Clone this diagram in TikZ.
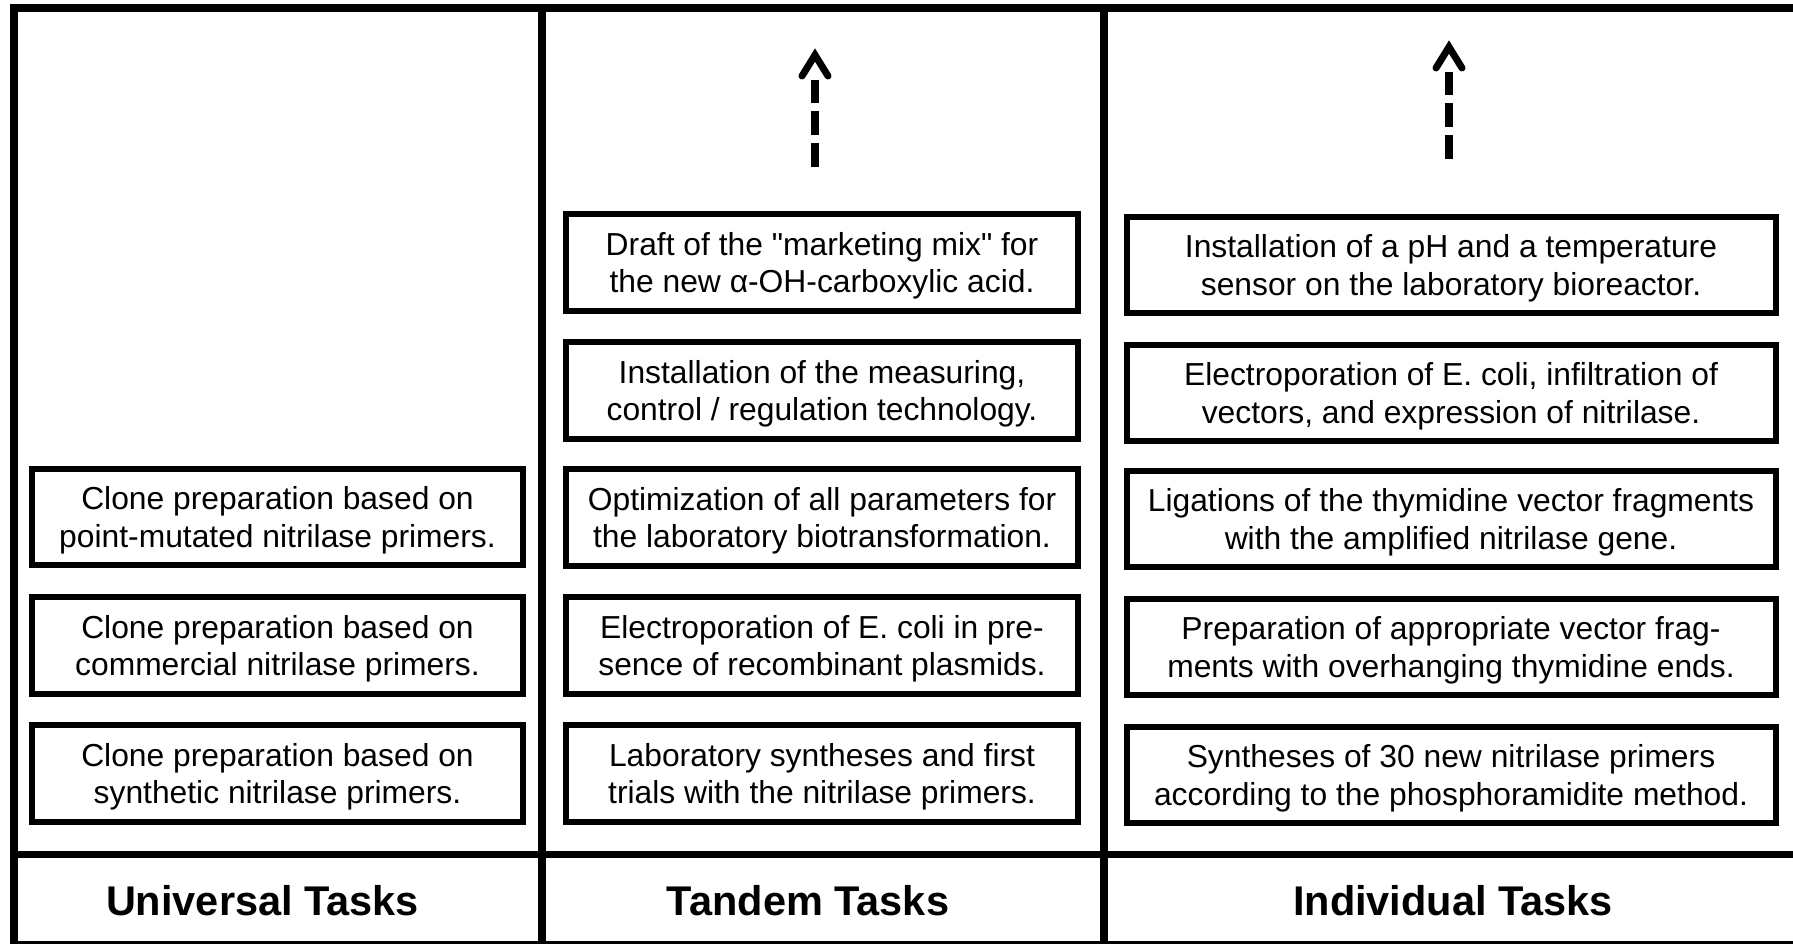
\documentclass[tikz,border=0pt]{standalone}
\usepackage{fontspec}
\setmainfont{Liberation Sans}
\newfontfamily\rawsans{Liberation Sans}
\usetikzlibrary{calc}
% two centred lines with fixed struts so every box sets its text alike
\newcommand\boxlines[2]{\rule{0pt}{30pt}#1\\#2\rule[-7pt]{0pt}{7pt}}
\newcommand\straightquote{{\rawsans\symbol{34}}}
\begin{document}
\begin{tikzpicture}[x=1pt,y=-1pt,
  frame/.style={line width=8pt, line cap=rect},
  taskbox/.style={draw, line width=6pt, inner sep=0pt, minimum height=96.5pt,
    align=center, font=\fontsize{31.8}{37.5}\selectfont},
  unibox/.style={taskbox, minimum width=491pt},
  tanbox/.style={taskbox, minimum width=512pt},
  indbox/.style={taskbox, minimum width=649pt, minimum height=96pt},
  heading/.style={anchor=base, inner sep=0pt,
    font=\fontsize{41.5}{48}\selectfont\bfseries},
  shaft/.style={line width=8pt, dash pattern=on 24pt off 8pt},
  chevron/.style={line width=7pt, line cap=round, line join=miter}
]
\useasboundingbox (0,0) rectangle (1793,944);

% outer frame, column dividers and heading row
\draw[frame] (13.5,8) -- (1850,8);
\draw[frame] (13.5,8) -- (13.5,950);
\draw[frame] (541.5,8) -- (541.5,950);
\draw[frame] (1104,8) -- (1104,950);
\draw[frame] (13.5,945) -- (1850,945);
\draw[line width=7pt] (9.5,854.5) -- (1850,854.5);

% column headings
\node[heading] (hUni) at (262.5,915) {Universal Tasks};
\node[heading] (hTan) at (808,915) {Tandem Tasks};
\node[heading] (hInd) at (1453,915) {Individual Tasks};

% universal tasks
\node[unibox] (u3) at (277.5,517) {\boxlines{Clone preparation based on}{point-mutated nitrilase primers.}};
\node[unibox] (u2) at (277.5,645.5) {\boxlines{Clone preparation based on}{commercial nitrilase primers.}};
\node[unibox] (u1) at (277.5,773.5) {\boxlines{Clone preparation based on}{synthetic nitrilase primers.}};

% tandem tasks
\node[tanbox] (t5) at (822,262.5) {\boxlines{Draft of the \straightquote marketing mix\straightquote{} for}{the new α-OH-carboxylic acid.}};
\node[tanbox] (t4) at (822,390.5) {\boxlines{Installation of the measuring,}{control / regulation technology.}};
\node[tanbox] (t3) at (822,517.5) {\boxlines{Optimization of all parameters for}{the laboratory biotransformation.}};
\node[tanbox] (t2) at (822,645.5) {\boxlines{Electroporation of E. coli in pre-}{sence of recombinant plasmids.}};
\node[tanbox] (t1) at (822,773.5) {\boxlines{Laboratory syntheses and first}{trials with the nitrilase primers.}};

% individual tasks
\node[indbox] (i5) at (1451,265) {\boxlines{Installation of a pH and a temperature}{sensor on the laboratory bioreactor.}};
\node[indbox] (i4) at (1451,393) {\boxlines{Electroporation of E. coli, infiltration of}{vectors, and expression of nitrilase.}};
\node[indbox] (i3) at (1451,519) {\boxlines{Ligations of the thymidine vector fragments}{with the amplified nitrilase gene.}};
\node[indbox] (i2) at (1451,647) {\boxlines{Preparation of appropriate vector frag-}{ments with overhanging thymidine ends.}};
\node[indbox] (i1) at (1451,775) {\boxlines{Syntheses of 30 new nitrilase primers}{according to the phosphoramidite method.}};

% dashed arrows pointing onward
\coordinate (tanFrom) at (815,167);
\coordinate (tanTo) at (815,80);
\coordinate (tanTip) at (815,55);
\draw[shaft] (tanFrom) -- (tanTo);
\draw[chevron] ([shift={(-13,21)}]tanTip) -- (tanTip) -- ([shift={(13,21)}]tanTip);

\coordinate (indFrom) at (1449,159);
\coordinate (indTo) at (1449,72);
\coordinate (indTip) at (1449,47);
\draw[shaft] (indFrom) -- (indTo);
\draw[chevron] ([shift={(-13,21)}]indTip) -- (indTip) -- ([shift={(13,21)}]indTip);
\end{tikzpicture}
\end{document}
